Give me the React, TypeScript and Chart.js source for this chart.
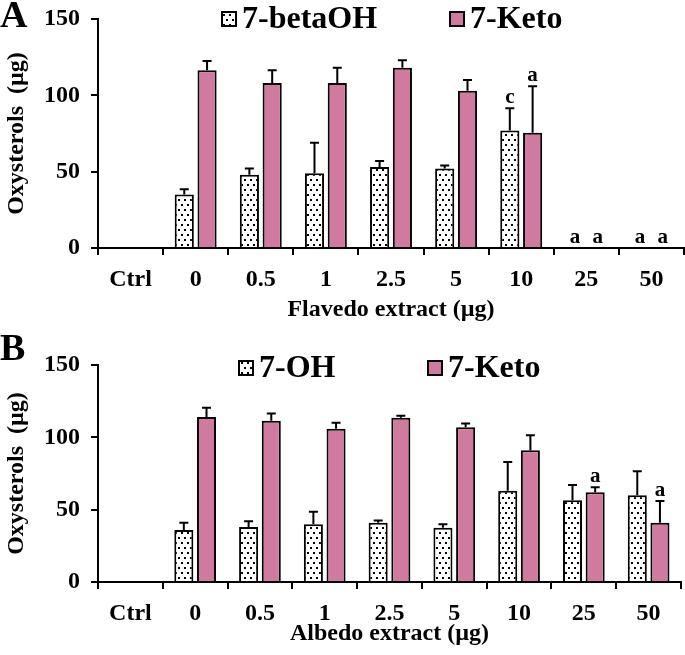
import React, { useEffect, useRef } from 'react';
import { Chart, registerables } from 'chart.js';

Chart.register(...registerables);

const CATEGORIES = ['Ctrl', '0', '0.5', '1', '2.5', '5', '10', '25', '50'];
const Y_MIN = 0;
const Y_MAX = 150;
const Y_STEP = 50;

// Panel A – Flavedo extract
const A_BETAOH = [0, 35, 48, 49, 53, 52, 77, 0, 0];
const A_BETAOH_ERR = [0, 3.5, 4, 20, 4, 2, 14.5, 0, 0];
const A_BETAOH_SIG = ['', '', '', '', '', '', 'c', 'a', 'a'];
const A_KETO = [0, 116.5, 108, 108, 118, 103, 75.5, 0, 0];
const A_KETO_ERR = [0, 6, 8.5, 10, 5, 7, 30.5, 0, 0];
const A_KETO_SIG = ['', '', '', '', '', '', 'a', 'a', 'a'];

// Panel B – Albedo extract
const B_OH = [0, 36, 38, 40, 41, 37.5, 63, 56.5, 60];
const B_OH_ERR = [0, 5, 4, 8.5, 1.5, 2.5, 20, 10.5, 16.5];
const B_OH_SIG = ['', '', '', '', '', '', '', '', ''];
const B_KETO = [0, 114, 111.5, 106, 113.5, 107, 91, 62, 41];
const B_KETO_ERR = [0, 6.5, 5, 4, 1.5, 2.5, 10.5, 3.5, 15];
const B_KETO_SIG = ['', '', '', '', '', '', '', 'a', 'a'];

const PINK = '#D17A9F';
const FONT = '"Liberation Serif", "Times New Roman", serif';

function makeDotPattern(): CanvasPattern | string {
  const c = document.createElement('canvas');
  c.width = 6;
  c.height = 10;
  const g = c.getContext('2d');
  if (!g) return '#fff';
  g.fillStyle = '#fff';
  g.fillRect(0, 0, 6, 10);
  g.fillStyle = '#000';
  g.fillRect(1, 2, 2, 2);
  g.fillRect(4, 7, 2, 2);
  const ctx = document.createElement('canvas').getContext('2d');
  const p = ctx ? ctx.createPattern(c, 'repeat') : null;
  return p || '#fff';
}

const overlayPlugin = {
  id: 'overlay',
  afterDatasetsDraw(chart: any) {
    const ctx = chart.ctx;
    const yScale = chart.scales.y;
    ctx.save();
    chart.data.datasets.forEach((ds: any, di: number) => {
      const meta = chart.getDatasetMeta(di);
      meta.data.forEach((bar: any, i: number) => {
        const v = ds.data[i];
        const e = ds.errors ? ds.errors[i] : 0;
        const x = bar.x;
        let topY = yScale.getPixelForValue(v);
        if (e > 0) {
          const ey = yScale.getPixelForValue(v + e);
          ctx.strokeStyle = '#000';
          ctx.lineWidth = 2;
          ctx.beginPath();
          ctx.moveTo(x, topY);
          ctx.lineTo(x, ey);
          ctx.moveTo(x - 4.5, ey);
          ctx.lineTo(x + 4.5, ey);
          ctx.stroke();
          topY = ey;
        }
        const s = ds.sig ? ds.sig[i] : '';
        if (s) {
          ctx.fillStyle = '#000';
          ctx.font = `bold 21px ${FONT}`;
          ctx.textAlign = 'center';
          ctx.textBaseline = 'alphabetic';
          ctx.fillText(s, x, topY - 5);
        }
      });
    });
    ctx.restore();
  },
  afterDraw(chart: any, _args: any, opts: any) {
    const ctx = chart.ctx;
    ctx.save();
    ctx.fillStyle = '#000';
    ctx.font = `bold 38px ${FONT}`;
    ctx.textAlign = 'left';
    ctx.textBaseline = 'alphabetic';
    ctx.fillText(opts.letter, 0, opts.letterY);
    const items = opts.legend || [];
    items.forEach((it: any, idx: number) => {
      const ds = chart.data.datasets[idx];
      const size = 14;
      const bx = it.x;
      const by = opts.legendY - size / 2;
      ctx.fillStyle = ds.backgroundColor;
      ctx.fillRect(bx, by, size, size);
      ctx.strokeStyle = '#000';
      ctx.lineWidth = 2;
      ctx.strokeRect(bx, by, size, size);
      ctx.fillStyle = '#000';
      ctx.font = `bold 32px ${FONT}`;
      ctx.textAlign = 'left';
      ctx.textBaseline = 'middle';
      ctx.fillText(ds.label, bx + size + 6, opts.legendY + 1);
    });
    ctx.restore();
  },
};

type PanelProps = {
  height: number;
  top: number;
  padTop: number;
  padRight: number;
  xAxisHeight: number;
  titlePadBottom: number;
  xTitle: string;
  labels: [string, string];
  s1: number[];
  e1: number[];
  g1: string[];
  s2: number[];
  e2: number[];
  g2: string[];
  letter: string;
  letterY: number;
  legendY: number;
  legendX: [number, number];
};

function Panel(p: PanelProps) {
  const ref = useRef<HTMLCanvasElement | null>(null);
  useEffect(() => {
    if (!ref.current) return;
    const dots = makeDotPattern();
    const chart = new Chart(ref.current, {
      type: 'bar',
      data: {
        labels: CATEGORIES,
        datasets: [
          {
            label: p.labels[0],
            data: p.s1,
            errors: p.e1,
            sig: p.g1,
            backgroundColor: dots,
            borderColor: '#000',
            borderWidth: 2,
            categoryPercentage: 0.7,
            barPercentage: 0.84,
          } as any,
          {
            label: p.labels[1],
            data: p.s2,
            errors: p.e2,
            sig: p.g2,
            backgroundColor: PINK,
            borderColor: '#000',
            borderWidth: 2,
            categoryPercentage: 0.7,
            barPercentage: 0.84,
          } as any,
        ],
      },
      options: {
        responsive: false,
        animation: false,
        devicePixelRatio: 1,
        layout: { padding: { top: p.padTop, right: p.padRight, left: 0, bottom: 0 } },
        plugins: {
          legend: { display: false },
          tooltip: { enabled: false },
          overlay: {
            letter: p.letter,
            letterY: p.letterY,
            legendY: p.legendY,
            legend: [{ x: p.legendX[0] }, { x: p.legendX[1] }],
          },
        } as any,
        scales: {
          x: {
            afterFit: (s: any) => {
              s.height = p.xAxisHeight;
            },
            grid: {
              display: true,
              drawOnChartArea: false,
              drawTicks: true,
              tickLength: 7,
              color: '#000',
              lineWidth: 2,
              offset: true,
            },
            border: { display: true, color: '#000', width: 2 },
            ticks: {
              color: '#000',
              padding: 10,
              font: { family: FONT, size: 24, weight: 'bold' },
            },
            title: {
              display: true,
              text: p.xTitle,
              color: '#000',
              padding: { top: 0, bottom: p.titlePadBottom },
              font: { family: FONT, size: 24, weight: 'bold' },
            },
          },
          y: {
            min: Y_MIN,
            max: Y_MAX,
            afterFit: (s: any) => {
              s.width = 98;
            },
            grid: {
              display: true,
              drawOnChartArea: false,
              drawTicks: true,
              tickLength: 7,
              color: '#000',
              lineWidth: 2,
            },
            border: { display: true, color: '#000', width: 2 },
            ticks: {
              stepSize: Y_STEP,
              color: '#000',
              padding: 11,
              font: { family: FONT, size: 24, weight: 'bold' },
            },
            title: {
              display: true,
              text: 'Oxysterols  (µg)',
              color: '#000',
              padding: { top: 2, bottom: 0 },
              font: { family: FONT, size: 24, weight: 'bold' },
            },
          },
        },
      } as any,
      plugins: [overlayPlugin as any],
    });
    return () => chart.destroy();
  }, []);
  return (
    <canvas
      ref={ref}
      width={685}
      height={p.height}
      style={{ position: 'absolute', left: 0, top: p.top, width: 685, height: p.height }}
    />
  );
}

export default function App() {
  return (
    <div style={{ position: 'absolute', left: 0, top: 0, width: 685, height: 655, background: '#fff', overflow: 'hidden' }}>
      <Panel
        height={338}
        top={-8}
        padTop={27}
        padRight={1}
        xAxisHeight={82}
        titlePadBottom={6}
        xTitle="Flavedo extract (µg)"
        labels={['7-betaOH', '7-Keto']}
        s1={A_BETAOH}
        e1={A_BETAOH_ERR}
        g1={A_BETAOH_SIG}
        s2={A_KETO}
        e2={A_KETO_ERR}
        g2={A_KETO_SIG}
        letter="A"
        letterY={35}
        legendY={27}
        legendX={[222, 450]}
      />
      <Panel
        height={325}
        top={330}
        padTop={35}
        padRight={4}
        xAxisHeight={73}
        titlePadBottom={7}
        xTitle="Albedo extract (µg)"
        labels={['7-OH', '7-Keto']}
        s1={B_OH}
        e1={B_OH_ERR}
        g1={B_OH_SIG}
        s2={B_KETO}
        e2={B_KETO_ERR}
        g2={B_KETO_SIG}
        letter="B"
        letterY={30}
        legendY={38}
        legendX={[239, 428]}
      />
    </div>
  );
}
